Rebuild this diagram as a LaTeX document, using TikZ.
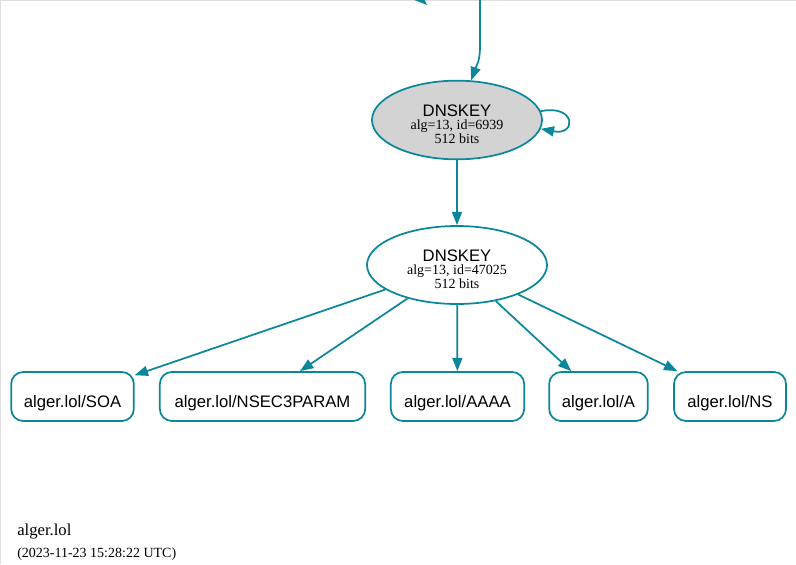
\documentclass[tikz,border=0pt]{standalone}
\usepackage{fontspec}
\setmainfont{Liberation Serif}
\setsansfont{Liberation Sans}
\usetikzlibrary{shapes.geometric,arrows.meta}
\definecolor{dvteal}{HTML}{0A879A}
\definecolor{keygray}{HTML}{D3D3D3}
\newcommand\keytext[2]{\raisebox{-4.5pt}[\height][\depth]{\begin{tabular}{@{}c@{}}%
    {\sffamily\fontsize{12.5}{12}\selectfont DNSKEY}\\alg=13, id=#1\\#2 bits\end{tabular}}}

\begin{document}
\begin{tikzpicture}[x=0.75pt, y=-0.75pt,
    keynode/.style={ellipse, draw=dvteal, line width=1.3pt, inner sep=0pt,
        font=\fontsize{10.5}{9.75}\selectfont},
    rrset/.style={rounded corners=9pt, draw=dvteal, line width=1.3pt, inner sep=0pt,
        minimum height=36.75pt, text height=16pt, text depth=0pt,
        font=\sffamily\fontsize{12.5}{14}\selectfont},
    sig/.style={dvteal, line width=1.3pt, -{Triangle[length=10pt,width=7.5pt]}}]
    \useasboundingbox (0,0) rectangle (796,564);
    \draw[gray!25] (0.5,564) -- (0.5,0.5) -- (796,0.5);

    \node[keynode, fill=keygray, minimum width=127.5pt, minimum height=59pt] (ksk) at (457,120)
        {\keytext{6939}{512}};
    \node[keynode, minimum width=135pt, minimum height=58.5pt] (zsk) at (457,265)
        {\keytext{47025}{512}};

    \foreach \n/\x/\w/\t in {soa/72.5/92/SOA, nsec3param/262.5/154/NSEC3PARAM,
        aaaa/457.5/100/AAAA, a/598.5/74/A, ns/730/84/NS}
        \node[rrset, minimum width=\w pt] (\n) at (\x,396.5) {alger.lol/\t};

    % edges coming in from above the page
    \coordinate (upper) at (480,-5);
    \coordinate (offleft) at (396,-24);
    \coordinate (offtip) at (427,5);
    \draw[sig] (offleft) -- (offtip);
    \draw[sig] (upper) -- (480,45) .. controls (480,62) and (477,64) .. (ksk);

    \draw[sig] (ksk.6) .. controls (576,104) and (577,136) .. (ksk.-6);
    \draw[sig] (ksk) -- (zsk);
    \foreach \n in {soa,nsec3param,aaaa,a,ns} \draw[sig] (zsk) -- (\n);

    \node[anchor=base west, inner sep=0pt, font=\fontsize{12.5}{14}\selectfont] (zone) at (17,535) {alger.lol};
    \node[anchor=base west, inner sep=0pt, font=\fontsize{10.5}{12}\selectfont] (stamp) at (17,557) {(2023-11-23 15:28:22 UTC)};
\end{tikzpicture}
\end{document}
